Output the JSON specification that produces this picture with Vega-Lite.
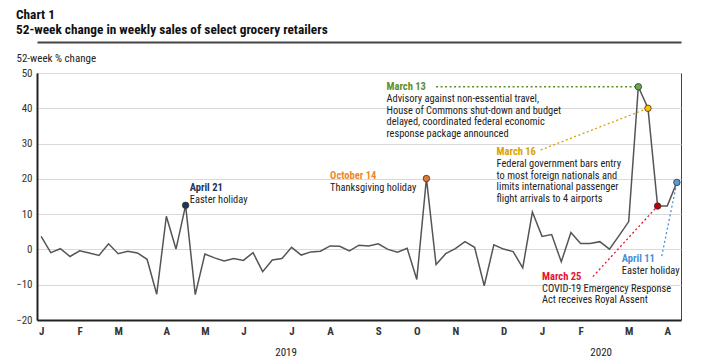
{
  "$schema": "https://vega.github.io/schema/vega-lite/v6.json",
  "width": 644,
  "height": 247,
  "autosize": {"type": "none"},
  "padding": {"left": 37, "top": 73, "right": 23, "bottom": 41},
  "background": "white",
  "title": {
    "text": ["Chart 1", "52-week change in weekly sales of select grocery retailers"],
    "anchor": "start",
    "frame": "group",
    "dx": -21,
    "offset": 6,
    "fontSize": 13.3,
    "lineHeight": 15,
    "font": "Liberation Sans Narrow, Arial Narrow, Roboto Condensed, DejaVu Sans Condensed, sans-serif",
    "fontWeight": "bold",
    "color": "#111"
  },
  "config": {
    "view": {"stroke": "#444", "strokeWidth": 1},
    "font": "Liberation Sans Narrow, Arial Narrow, Roboto Condensed, DejaVu Sans Condensed, sans-serif",
    "axis": {"labelFont": "Liberation Sans Narrow, Arial Narrow, Roboto Condensed, DejaVu Sans Condensed, sans-serif", "titleFont": "Liberation Sans Narrow, Arial Narrow, Roboto Condensed, DejaVu Sans Condensed, sans-serif"},
    "axisY": {
      "titleAngle": 0,
      "titleAlign": "left",
      "titleBaseline": "alphabetic",
      "titleX": -21,
      "titleY": -12,
      "titleFontWeight": "normal",
      "titleFontSize": 11,
      "titleColor": "#222",
      "labelFontSize": 11,
      "labelColor": "#333",
      "labelPadding": 5,
      "labelOverlap": false,
      "labelFlush": false,
      "ticks": false,
      "grid": true,
      "gridColor": "#d9d9d9",
      "gridWidth": 1.2,
      "domainColor": "#222",
      "domainWidth": 2,
      "tickCount": 8
    },
    "text": {"font": "Liberation Sans Narrow, Arial Narrow, Roboto Condensed, DejaVu Sans Condensed, sans-serif"}
  },
  "datasets": {
    "series": [
      {"date": "2019-01-05", "value": 3.7},
      {"date": "2019-01-12", "value": -0.9},
      {"date": "2019-01-19", "value": 0.2},
      {"date": "2019-01-26", "value": -2.0},
      {"date": "2019-02-02", "value": -0.4},
      {"date": "2019-02-09", "value": -1.0},
      {"date": "2019-02-16", "value": -1.7},
      {"date": "2019-02-23", "value": 1.6},
      {"date": "2019-03-02", "value": -1.2},
      {"date": "2019-03-09", "value": -0.5},
      {"date": "2019-03-16", "value": -1.0},
      {"date": "2019-03-23", "value": -2.8},
      {"date": "2019-03-30", "value": -12.7},
      {"date": "2019-04-06", "value": 9.4},
      {"date": "2019-04-13", "value": 0.1},
      {"date": "2019-04-20", "value": 12.5},
      {"date": "2019-04-27", "value": -12.8},
      {"date": "2019-05-04", "value": -1.3},
      {"date": "2019-05-11", "value": -2.4},
      {"date": "2019-05-18", "value": -3.3},
      {"date": "2019-05-25", "value": -2.6},
      {"date": "2019-06-01", "value": -3.1},
      {"date": "2019-06-08", "value": -0.9},
      {"date": "2019-06-15", "value": -6.3},
      {"date": "2019-06-22", "value": -3.0},
      {"date": "2019-06-29", "value": -2.6},
      {"date": "2019-07-06", "value": 0.6},
      {"date": "2019-07-13", "value": -1.6},
      {"date": "2019-07-20", "value": -0.7},
      {"date": "2019-07-27", "value": -0.5},
      {"date": "2019-08-03", "value": 1.0},
      {"date": "2019-08-10", "value": 0.9},
      {"date": "2019-08-17", "value": -0.4},
      {"date": "2019-08-24", "value": 1.2},
      {"date": "2019-08-31", "value": 1.0},
      {"date": "2019-09-07", "value": 1.6},
      {"date": "2019-09-14", "value": 0.0},
      {"date": "2019-09-21", "value": -0.8},
      {"date": "2019-09-28", "value": 0.3},
      {"date": "2019-10-05", "value": -8.5},
      {"date": "2019-10-12", "value": 20.1},
      {"date": "2019-10-19", "value": -4.3},
      {"date": "2019-10-26", "value": -1.2},
      {"date": "2019-11-02", "value": 0.2},
      {"date": "2019-11-09", "value": 2.2},
      {"date": "2019-11-16", "value": 0.6},
      {"date": "2019-11-23", "value": -10.3},
      {"date": "2019-11-30", "value": 1.3},
      {"date": "2019-12-07", "value": 0.1},
      {"date": "2019-12-14", "value": -0.6},
      {"date": "2019-12-21", "value": -5.2},
      {"date": "2019-12-28", "value": 10.6},
      {"date": "2020-01-04", "value": 3.7},
      {"date": "2020-01-11", "value": 4.2},
      {"date": "2020-01-18", "value": -3.5},
      {"date": "2020-01-25", "value": 4.8},
      {"date": "2020-02-01", "value": 1.7},
      {"date": "2020-02-08", "value": 1.7},
      {"date": "2020-02-15", "value": 2.2},
      {"date": "2020-02-22", "value": 0.1},
      {"date": "2020-02-29", "value": 3.9},
      {"date": "2020-03-07", "value": 7.9},
      {"date": "2020-03-14", "value": 46.1},
      {"date": "2020-03-21", "value": 40.0},
      {"date": "2020-03-28", "value": 12.3},
      {"date": "2020-04-04", "value": 12.3},
      {"date": "2020-04-11", "value": 19.0}
    ],
    "events": [
      {"event": "April 21", "body": ["Easter holiday"], "date": "2019-04-20", "value": 12.5, "label_date": "2019-04-23", "label_value": 16.5},
      {"event": "October 14", "body": ["Thanksgiving holiday"], "date": "2019-10-12", "value": 20.1, "label_date": "2019-08-03", "label_value": 19.9},
      {"event": "March 13", "body": ["Advisory against non-essential travel,", "House of Commons shut-down and budget", "delayed, coordinated federal economic", "response package announced"], "date": "2020-03-14", "value": 46.1, "label_date": "2019-09-13", "label_value": 45.1, "leader_date": "2019-10-19", "leader_value": 46.1},
      {"event": "March 16", "body": ["Federal government bars entry", "to most foreign nationals and", "limits international passenger", "flight arrivals to 4 airports"], "date": "2020-03-21", "value": 40.0, "label_date": "2019-12-02", "label_value": 26.7, "leader_date": "2020-01-03", "leader_value": 28.2},
      {"event": "March 25", "body": ["COVID-19 Emergency Response", "Act receives Royal Assent"], "date": "2020-03-28", "value": 12.3, "label_date": "2020-01-04", "label_value": -8.7, "leader_date": "2020-02-10", "leader_value": -7.7},
      {"event": "April 11", "body": ["Easter holiday"], "date": "2020-04-11", "value": 19.0, "label_date": "2020-03-02", "label_value": -3.7, "leader_date": "2020-03-31", "leader_value": -1.9}
    ],
    "years": [
      {"year": "2019", "date": "2019-07-02"},
      {"year": "2020", "date": "2020-02-16"}
    ]
  },
  "resolve": {"axis": {"x": "independent"}},
  "layer": [
    {
      "data": {"name": "series"},
      "mark": {"type": "line", "color": "#555555", "strokeWidth": 1.5},
      "encoding": {
        "x": {
          "field": "date", "type": "temporal",
          "scale": {"type": "utc", "domain": [{"year": 2019, "month": 1, "date": 2, "utc": true}, {"year": 2020, "month": 4, "date": 14, "utc": true}]},
          "axis": {
            "title": null,
            "values": [
              {"year": 2019, "month": 1, "date": 5, "utc": true},
              {"year": 2019, "month": 2, "date": 2, "utc": true},
              {"year": 2019, "month": 3, "date": 2, "utc": true},
              {"year": 2019, "month": 4, "date": 6, "utc": true},
              {"year": 2019, "month": 5, "date": 4, "utc": true},
              {"year": 2019, "month": 6, "date": 1, "utc": true},
              {"year": 2019, "month": 7, "date": 6, "utc": true},
              {"year": 2019, "month": 8, "date": 3, "utc": true},
              {"year": 2019, "month": 9, "date": 7, "utc": true},
              {"year": 2019, "month": 10, "date": 5, "utc": true},
              {"year": 2019, "month": 11, "date": 2, "utc": true},
              {"year": 2019, "month": 12, "date": 7, "utc": true},
              {"year": 2020, "month": 1, "date": 4, "utc": true},
              {"year": 2020, "month": 2, "date": 1, "utc": true},
              {"year": 2020, "month": 3, "date": 7, "utc": true},
              {"year": 2020, "month": 4, "date": 4, "utc": true}
            ],
            "labelExpr": "substring(utcFormat(datum.value, '%b'), 0, 1)",
            "labelFontWeight": "bold",
            "labelFontSize": 11,
            "labelColor": "#333",
            "labelPadding": 5,
            "ticks": false,
            "grid": false,
            "domainColor": "#222",
            "domainWidth": 2,
            "labelFlush": false,
            "labelOverlap": false
          }
        },
        "y": {
          "field": "value", "type": "quantitative",
          "scale": {"domain": [-20, 50], "nice": false, "zero": false},
          "axis": {"title": "52-week % change", "values": [-20, -10, 0, 10, 20, 30, 40, 50]}
        }
      }
    },
    {
      "data": {"name": "events"},
      "transform": [{"filter": "isValid(datum.leader_date)"}],
      "mark": {"type": "rule", "strokeDash": [2, 2.5], "strokeWidth": 1.3},
      "encoding": {
        "x": {"field": "leader_date", "type": "temporal", "axis": null},
        "y": {"field": "leader_value", "type": "quantitative", "axis": {"title": "52-week % change", "values": [-20, -10, 0, 10, 20, 30, 40, 50]}},
        "x2": {"field": "date"},
        "y2": {"field": "value"},
        "color": {
          "field": "event", "type": "nominal", "legend": null,
          "scale": {
            "domain": ["April 21", "October 14", "March 13", "March 16", "March 25", "April 11"],
            "range": ["#1b365d", "#ec8a2c", "#5b8f2c", "#d8a300", "#e8112d", "#4a8fd6"]
          }
        }
      }
    },
    {
      "data": {"name": "events"},
      "mark": {"type": "circle", "size": 42, "stroke": "#333", "strokeWidth": 0.8, "opacity": 1},
      "encoding": {
        "x": {"field": "date", "type": "temporal", "axis": null},
        "y": {"field": "value", "type": "quantitative", "axis": {"title": "52-week % change", "values": [-20, -10, 0, 10, 20, 30, 40, 50]}},
        "fill": {
          "field": "event", "type": "nominal", "legend": null,
          "scale": {
            "domain": ["April 21", "October 14", "March 13", "March 16", "March 25", "April 11"],
            "range": ["#1b365d", "#e8762b", "#6aa84f", "#ffc000", "#c00000", "#5b9bd5"]
          }
        }
      }
    },
    {
      "data": {"name": "events"},
      "mark": {"type": "text", "align": "left", "baseline": "alphabetic", "fontWeight": "bold", "fontSize": 10.5},
      "encoding": {
        "x": {"field": "label_date", "type": "temporal", "axis": null},
        "y": {"field": "label_value", "type": "quantitative", "axis": {"title": "52-week % change", "values": [-20, -10, 0, 10, 20, 30, 40, 50]}},
        "text": {"field": "event", "type": "nominal"},
        "color": {"field": "event", "type": "nominal", "legend": null}
      }
    },
    {
      "data": {"name": "events"},
      "mark": {"type": "text", "align": "left", "baseline": "alphabetic", "fontSize": 10.4, "dy": 11.6, "lineHeight": 11.7, "color": "#222"},
      "encoding": {
        "x": {"field": "label_date", "type": "temporal", "axis": null},
        "y": {"field": "label_value", "type": "quantitative", "axis": {"title": "52-week % change", "values": [-20, -10, 0, 10, 20, 30, 40, 50]}},
        "text": {"field": "body", "type": "nominal"}
      }
    },
    {
      "data": {"name": "years"},
      "mark": {"type": "text", "align": "center", "baseline": "alphabetic", "fontSize": 11, "dy": 36, "color": "#222"},
      "encoding": {
        "x": {
          "field": "date", "type": "temporal",
          "axis": {"orient": "top", "offset": 31, "labels": false, "ticks": false, "grid": false, "title": null, "domainColor": "#444", "domainWidth": 2}
        },
        "y": {"datum": -20, "type": "quantitative", "axis": {"title": "52-week % change", "values": [-20, -10, 0, 10, 20, 30, 40, 50]}},
        "text": {"field": "year", "type": "nominal"}
      }
    }
  ]
}
